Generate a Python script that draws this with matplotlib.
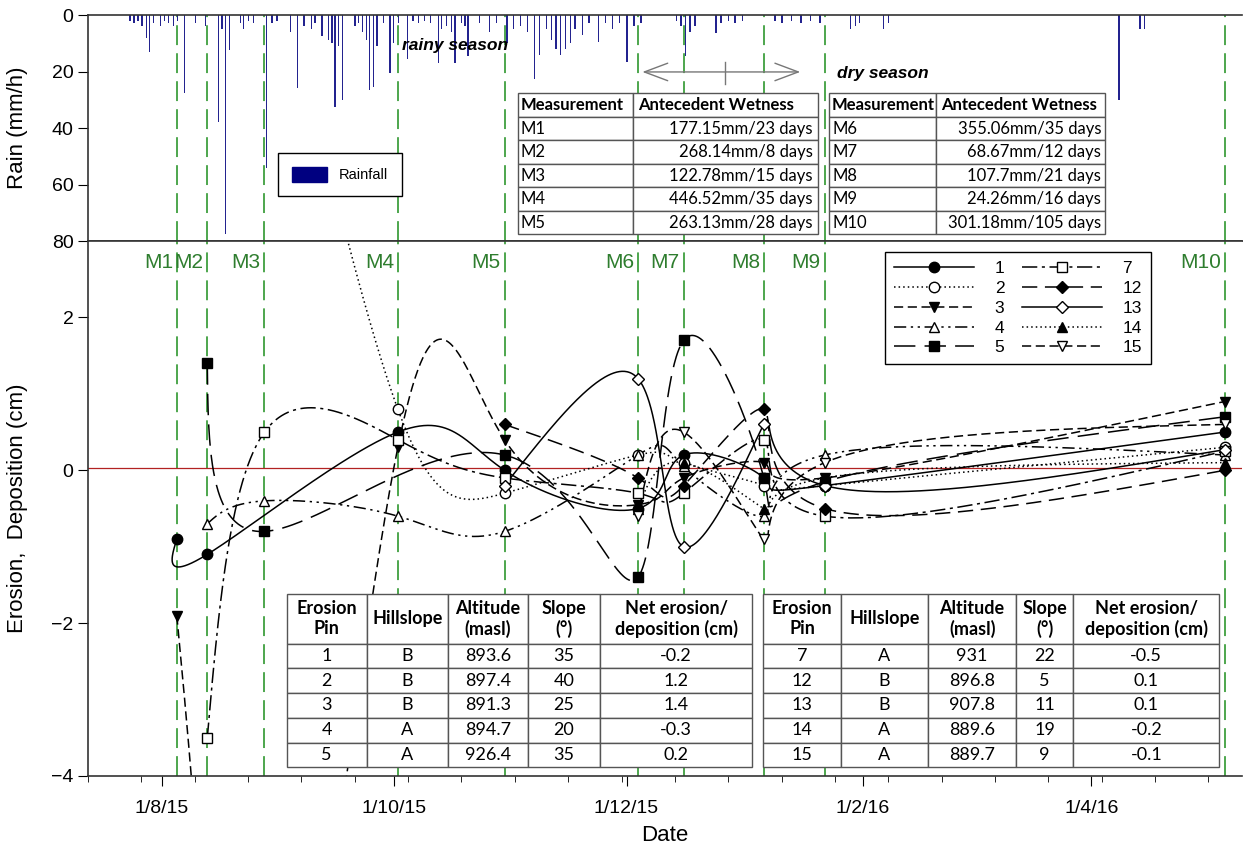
"""
Rainfall and erosion pin measurements, 2015-2016
"""
import matplotlib
matplotlib.use('Agg')
import matplotlib.pyplot as plt
from matplotlib.lines import Line2D
from matplotlib.patches import Patch
import numpy as np
import pandas as pd

plt.rcParams['font.family'] = ['Liberation Sans', 'DejaVu Sans']
TABLE_FONT = ['Lato', 'DejaVu Sans']

BASE = pd.Timestamp('2015-08-01')

# --- data -------------------------------------------------------------------
# rainfall events: day offset from 1 Aug 2015, intensity in mm/h
rain_day = [-8.3, -7.2, -6.2, -5.1, -4.0, -3.1, -2.2, -0.3, 0.8, 1.9, 3.1, 4.1,
            6.0, 8.9, 11.5, 15.0, 15.9, 16.8, 17.8, 20.7, 21.5, 22.9, 24.2,
            27.5, 29.0, 30.3, 33.9, 35.7, 37.4, 39.4, 40.3, 42.1, 43.8, 44.7,
            45.5, 46.4, 47.5, 50.8, 51.7, 52.8, 53.7, 54.6, 55.6, 56.5, 58.2,
            59.9, 60.8, 62.1, 64.5, 66.0, 67.5, 69.0, 70.5, 72.6, 73.5, 74.8,
            76.1, 77.0, 78.7, 79.6, 80.4, 83.5, 86.0, 87.9, 90.6, 92.4, 94.2,
            96.1, 97.9, 99.2, 101.0, 102.3, 103.5, 104.7, 106.0, 107.3, 108.5,
            110.4, 112.2, 114.7, 116.5, 118.3, 120.2, 122.1, 124.0, 125.8,
            135.1, 136.3, 137.5, 138.7, 140.0, 145.5, 146.8, 148.7, 150.5,
            152.4, 161.0, 162.8, 165.3, 167.8, 170.3, 172.8, 180.8, 182.0,
            183.2, 189.4, 190.7, 251.2, 256.7, 258.0]
rain_mm = [2, 3, 2, 4, 8, 13, 3, 4, 2, 3, 4, 2,
           27.5, 3, 4, 38, 5, 77.5, 12.5, 3, 5, 2, 3,
           54, 3, 2, 6, 26, 4, 5, 3, 7.5, 9, 10,
           32.5, 11, 30, 4, 3, 6, 9, 26.5, 25.5, 11, 3,
           20.5, 10, 3, 15.5, 2, 3, 2, 3, 17, 5, 4,
           6, 17, 3, 4, 14.5, 3, 6, 3, 10, 5, 4,
           6, 22.5, 14, 5, 9, 12, 14, 12, 10, 5,
           7, 3, 9.5, 3, 5, 3, 16.5, 4, 3,
           2, 4, 14.5, 6, 4, 6.5, 3, 2, 3,
           2, 2, 3, 2, 3, 2, 3, 5, 4,
           3, 5, 3, 30, 5, 5]

meas_labels = ['M1', 'M2', 'M3', 'M4', 'M5', 'M6', 'M7', 'M8', 'M9', 'M10']
meas_dates = ['2015-08-05', '2015-08-13', '2015-08-28', '2015-10-02', '2015-10-30',
              '2015-12-04', '2015-12-16', '2016-01-06', '2016-01-22', '2016-05-06']

nan = np.nan
# erosion (-) / deposition (+) in cm at M1..M10
pin1 = [-0.9, -1.1, nan, 0.5, 0.0, -0.5, 0.2, -0.1, -0.2, 0.5]
pin2 = [nan, nan, 7.5, 0.8, -0.3, 0.2, 0.1, -0.2, -0.2, 0.3]
pin3 = [-1.9, -7.0, -11.0, 0.3, 0.4, -0.45, -0.1, 0.1, -0.1, 0.9]
pin4 = [nan, -0.7, -0.4, -0.6, -0.8, 0.2, 0.05, -0.6, 0.2, 0.2]
pin5 = [nan, 1.4, -0.8, nan, 0.2, -1.4, 1.7, -0.1, -0.15, 0.7]
pin7 = [nan, -3.5, 0.5, 0.4, -0.1, -0.3, -0.3, 0.4, -0.6, 0.25]
pin12 = [nan, nan, nan, nan, 0.6, -0.1, -0.2, 0.8, -0.5, 0.0]
pin13 = [nan, nan, nan, nan, -0.2, 1.2, -1.0, 0.6, -0.2, 0.27]
pin14 = [nan, nan, nan, nan, nan, -0.5, 0.1, -0.5, -0.1, 0.1]
pin15 = [nan, nan, nan, nan, nan, -0.6, 0.5, -0.9, 0.1, 0.6]

wet_left = [['M1', '177.15mm/23 days'], ['M2', '268.14mm/8 days'],
            ['M3', '122.78mm/15 days'], ['M4', '446.52mm/35 days'],
            ['M5', '263.13mm/28 days']]
wet_right = [['M6', '355.06mm/35 days'], ['M7', '68.67mm/12 days'],
             ['M8', '107.7mm/21 days'], ['M9', '24.26mm/16 days'],
             ['M10', '301.18mm/105 days']]

pin_header = ['Erosion\nPin', 'Hillslope', 'Altitude\n(masl)', 'Slope\n(°)',
              'Net erosion/\ndeposition (cm)']
pins_left = [['1', 'B', '893.6', '35', '-0.2'], ['2', 'B', '897.4', '40', '1.2'],
             ['3', 'B', '891.3', '25', '1.4'], ['4', 'A', '894.7', '20', '-0.3'],
             ['5', 'A', '926.4', '35', '0.2']]
pins_right = [['7', 'A', '931', '22', '-0.5'], ['12', 'B', '896.8', '5', '0.1'],
              ['13', 'B', '907.8', '11', '0.1'], ['14', 'A', '889.6', '19', '-0.2'],
              ['15', 'A', '889.7', '9', '-0.1']]

tick_dates = ['2015-08-01', '2015-10-01', '2015-12-01', '2016-02-01', '2016-04-01']
tick_labels = ['1/8/15', '1/10/15', '1/12/15', '1/2/16', '1/4/16']


def to_days(dates):
    return np.array([(pd.Timestamp(d) - BASE).days for d in dates], dtype=float)


def _nat_spline(t, v, tt):
    n = len(t)
    h = np.diff(t)
    A = np.zeros((n, n))
    r = np.zeros(n)
    A[0, 0] = A[-1, -1] = 1
    for i in range(1, n - 1):
        A[i, i - 1] = h[i - 1]
        A[i, i] = 2 * (h[i - 1] + h[i])
        A[i, i + 1] = h[i]
        r[i] = 6 * ((v[i + 1] - v[i]) / h[i] - (v[i] - v[i - 1]) / h[i - 1])
    m = np.linalg.solve(A, r)
    idx = np.clip(np.searchsorted(t, tt) - 1, 0, n - 2)
    t0, t1 = t[idx], t[idx + 1]
    hh = t1 - t0
    a = (t1 - tt) / hh
    b = (tt - t0) / hh
    return a * v[idx] + b * v[idx + 1] + ((a ** 3 - a) * m[idx] + (b ** 3 - b) * m[idx + 1]) * hh ** 2 / 6


def smooth(xs, ys, per_seg=120):
    """Parametric spline through the measured points (drawing only)."""
    xs = np.asarray(xs, float)
    ys = np.asarray(ys, float)
    if len(xs) < 3:
        return xs, ys
    t = np.arange(len(xs), dtype=float)
    tt = np.linspace(0, t[-1], per_seg * (len(xs) - 1) + 1)
    return _nat_spline(t, xs, tt), _nat_spline(t, ys, tt)


meas_x = to_days(meas_dates)
x_min, x_max = -19.3, 283.5

# --- figure -----------------------------------------------------------------
fig = plt.figure(figsize=(12.44, 8.52), dpi=100)
L, R = 88 / 1244, 1242 / 1244
ax_r = fig.add_axes([L, 1 - 241 / 852, R - L, 226 / 852])
ax = fig.add_axes([L, 1 - 776 / 852, R - L, 535 / 852])

green = '#3f9f3f'
for a in (ax_r, ax):
    a.set_xlim(x_min, x_max)
    a.spines['right'].set_visible(False)
    for s in a.spines.values():
        s.set_linewidth(1.2)
        s.set_color('#333333')
    for mx in meas_x:
        a.axvline(mx, color=green, lw=1.3, ls=(0, (11, 4.5)), zorder=1)

# rain panel
ax_r.bar(rain_day, rain_mm, width=0.35, color='#23238f', zorder=2)
ax_r.set_ylim(80, 0)
ax_r.set_yticks([0, 20, 40, 60, 80])
ax_r.tick_params(axis='y', direction='out', length=7, labelsize=14)
ax_r.tick_params(axis='x', bottom=False, labelbottom=False)
ax_r.set_ylabel('Rain (mm/h)', fontsize=16)
ax_r.yaxis.set_label_coords(-0.052, 0.5)

leg_r = ax_r.legend([Patch(facecolor='#000080', edgecolor='#000080')], ['Rainfall'],
                    loc='lower left', bbox_to_anchor=(0.1646, 0.199), fontsize=10.5,
                    handlelength=2.4, handleheight=1.2, fancybox=False,
                    edgecolor='black', framealpha=1, borderpad=0.95, borderaxespad=0)
leg_r.get_frame().set_linewidth(1.0)

ax_r.text(0.318, 0.867, 'rainy season', transform=ax_r.transAxes, fontsize=12.5,
          fontweight='bold', style='italic', ha='center', va='center')
ax_r.text(0.689, 0.743, 'dry season', transform=ax_r.transAxes, fontsize=12.5,
          fontweight='bold', style='italic', ha='center', va='center')
ax_r.annotate('', xy=(0.478, 0.748), xytext=(0.6196, 0.748), xycoords='axes fraction',
              arrowprops=dict(arrowstyle='<->,head_length=1.2,head_width=0.45',
                              color='#777777', lw=1.0, mutation_scale=14))
ax_r.plot([0.552, 0.552], [0.695, 0.792], transform=ax_r.transAxes, color='#777777', lw=1.0)


def make_table(a, rows, header, bbox, col_w, header_scale, fontsize, right_col=None):
    tb = a.table(cellText=[header] + rows, colWidths=col_w, cellLoc='center',
                 bbox=bbox, zorder=6)
    tb.auto_set_font_size(False)
    tb.set_fontsize(fontsize)
    for (r, c), cell in tb.get_celld().items():
        cell.set_edgecolor('#555555')
        cell.set_linewidth(1.0)
        cell.set_facecolor('white')
        cell.PAD = 0.025
        txt = cell.get_text()
        txt.set_fontfamily(TABLE_FONT)
        if r == 0:
            txt.set_fontweight('bold')
            cell.set_height(cell.get_height() * header_scale)
        if right_col is not None:
            if r == 0 or c == 0:
                txt.set_horizontalalignment('left')
            elif c == right_col:
                txt.set_horizontalalignment('right')
    return tb


def xf(px):
    return (px - 88) / 1154


# antecedent wetness tables (top panel, axes fraction)
make_table(ax_r, wet_left, ['Measurement', 'Antecedent Wetness'],
           [xf(517.5), 1 - (234.3 - 15) / 226, xf(817.6) - xf(517.5), (234.3 - 93.3) / 226],
           [115.5, 184.6], 1.0, 12, right_col=1)
make_table(ax_r, wet_right, ['Measurement', 'Antecedent Wetness'],
           [xf(829.4), 1 - (234.3 - 15) / 226, xf(1105.5) - xf(829.4), (234.3 - 93.3) / 226],
           [107.1, 169.0], 1.0, 12, right_col=1)

# erosion panel
ax.set_ylim(-4, 3)
ax.set_yticks([-4, -2, 0, 2])
ax.tick_params(axis='y', direction='out', length=7, labelsize=14)
ax.set_ylabel('Erosion,  Deposition (cm)', fontsize=16)
ax.yaxis.set_label_coords(-0.052, 0.5)
ax.set_xticks(to_days(tick_dates))
ax.set_xticklabels(tick_labels)
ax.set_xticks(np.arange(x_min, x_max, 14), minor=True)
ax.tick_params(axis='x', which='major', direction='out', length=7, labelsize=14, pad=10)
ax.tick_params(axis='x', which='minor', direction='out', length=4)
ax.set_xlabel('Date', fontsize=16, labelpad=6)
ax.axhline(0.03, color='#b22222', lw=0.9, zorder=2)

series = [
    ('1', pin1, '-', 'o', 'black'),
    ('2', pin2, (0, (1, 2)), 'o', 'white'),
    ('3', pin3, (0, (6, 3)), 'v', 'black'),
    ('4', pin4, (0, (8, 3, 1.5, 3, 1.5, 3)), '^', 'white'),
    ('5', pin5, (0, (14, 6)), 's', 'black'),
    ('7', pin7, (0, (10, 3, 2, 3)), 's', 'white'),
    ('12', pin12, (0, (10, 5)), 'D', 'black'),
    ('13', pin13, '-', 'D', 'white'),
    ('14', pin14, (0, (1, 2)), '^', 'black'),
    ('15', pin15, (0, (6, 3)), 'v', 'white'),
]

handles = []
for name, vals, ls, mk, fc in series:
    vals = np.asarray(vals, float)
    ok = ~np.isnan(vals)
    xx, yy = smooth(meas_x[ok], vals[ok])
    ax.plot(xx, yy, color='black', lw=1.1, ls=ls, zorder=3)
    ms = 6 if mk == 'D' else 7.5
    ax.plot(meas_x[ok], vals[ok], ls='none', marker=mk, ms=ms, mfc=fc, mec='black',
            mew=1.0, zorder=4)
    handles.append(Line2D([], [], color='black', lw=1.1, ls=ls, marker=mk, ms=ms,
                          mfc=fc, mec='black', mew=1.0))

leg = ax.legend(handles, [s[0] for s in series], ncol=2,
                loc='upper left', bbox_to_anchor=(0.691, 0.979), fontsize=12.5,
                handlelength=4.6, handletextpad=1.2, columnspacing=1.0,
                labelspacing=0.27, numpoints=1, fancybox=False, edgecolor='black',
                framealpha=1, borderpad=0.5, borderaxespad=0)
leg.get_frame().set_linewidth(1.0)
leg.set_zorder(8)

for lab, mx in zip(meas_labels, meas_x):
    ax.text(mx - 1.0, 2.72, lab, color='#2e7d2e', fontsize=15, ha='right', va='center')


tb_y = 1 - (767.3 - 241) / 535
tb_h = (767.3 - 594) / 535
make_table(ax, pins_left, pin_header, [xf(286.7), tb_y, xf(752.3) - xf(286.7), tb_h],
           [80, 81, 80, 72.3, 152.3], 2.0, 13)
make_table(ax, pins_right, pin_header, [xf(763.3), tb_y, xf(1219.3) - xf(763.3), tb_h],
           [77.4, 87.6, 87.7, 57.3, 146], 2.0, 13)

fig.savefig('out.png', dpi=100)
